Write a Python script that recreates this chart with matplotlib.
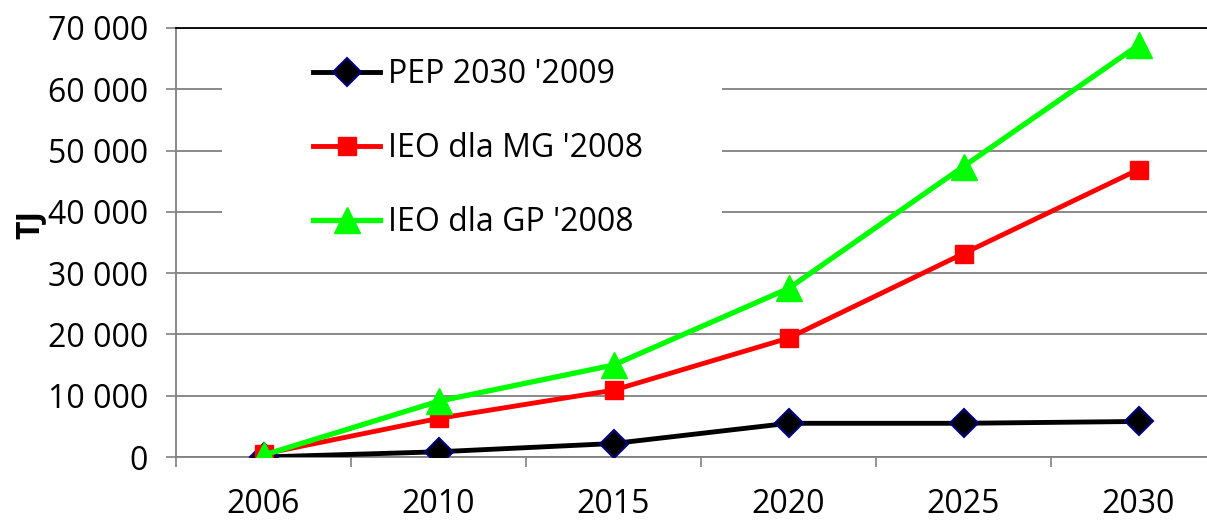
import matplotlib
matplotlib.use("Agg")
import matplotlib.pyplot as plt
from matplotlib.patches import Rectangle
from matplotlib.ticker import FuncFormatter, MultipleLocator

plt.rcParams['font.family'] = ['Open Sans', 'DejaVu Sans']

years = ['2006', '2010', '2015', '2020', '2025', '2030']
pep_2030_2009 = [0, 850, 2200, 5500, 5500, 5800]
ieo_mg_2008 = [500, 6300, 10900, 19400, 33200, 46900]
ieo_gp_2008 = [300, 9100, 15000, 27500, 47400, 67200]
labels = ["PEP 2030 '2009", "IEO dla MG '2008", "IEO dla GP '2008"]

W, H = 1207, 521
fig = plt.figure(figsize=(W / 100, H / 100), dpi=100)
ax = fig.add_axes([176 / W, (H - 457) / H, (1226 - 176) / W, (457 - 28) / H])

x = list(range(len(years)))
ax.plot(x, pep_2030_2009, color='black', lw=3.5, marker='D', ms=14,
        mfc='black', mec='#000080', mew=1.5, label=labels[0], zorder=3)
ax.plot(x, ieo_mg_2008, color='#ff0000', lw=3.5, marker='s', ms=13.5,
        mfc='#ff0000', mec='#ff0000', label=labels[1], zorder=4)
ax.plot(x, ieo_gp_2008, color='#00ff00', lw=3.8, marker='^', ms=19,
        mfc='#00ff00', mec='#00ff00', label=labels[2], zorder=5)

ax.set_xlim(-0.5, len(years) - 0.5)
ax.set_ylim(0, 70000)
ax.yaxis.set_major_locator(MultipleLocator(10000))
ax.yaxis.set_major_formatter(FuncFormatter(lambda v, p: f"{int(v):,}".replace(',', ' ')))
ax.set_xticks(x)
ax.set_xticklabels(years)
ax.set_xticks([i + 0.5 for i in range(-1, len(years))], minor=True)

ax.set_axisbelow(True)
ax.grid(axis='y', color='#808080', lw=1.3)
ax.tick_params(axis='y', which='major', direction='out', length=7.2, width=1.2,
               color='#808080', labelsize=23, pad=13)
ax.tick_params(axis='x', which='major', length=0, labelsize=23, pad=22)
ax.tick_params(axis='x', which='minor', direction='out', length=7.2, width=1.2,
               color='#808080')
ax.yaxis.get_major_ticks()[-1].tick1line.set_color('black')

ax.spines['right'].set_visible(False)
ax.spines['top'].set_color('black')
ax.spines['top'].set_linewidth(1.3)
for s in ['left', 'bottom']:
    ax.spines[s].set_color('#808080')
    ax.spines[s].set_linewidth(1.3)

# white legend area hiding gridlines
bx0, bx1 = 222, 722
by0, by1 = 40, 250
rect = Rectangle(((bx0 - 176) / (1226 - 176), (457 - by1) / (457 - 28)),
                 (bx1 - bx0) / (1226 - 176), (by1 - by0) / (457 - 28),
                 transform=ax.transAxes, facecolor='white', edgecolor='none', zorder=1)
ax.add_patch(rect)

leg = ax.legend(loc='upper left', bbox_to_anchor=(313 / W, 1 - 58 / H),
                bbox_transform=fig.transFigure, frameon=False, fontsize=23,
                handlelength=2.1, handletextpad=0.25, labelspacing=1.28,
                borderpad=0, borderaxespad=0)

fig.text(30 / W, 1 - 224 / H, 'TJ', rotation=90, ha='center', va='center',
         fontsize=23, fontweight='bold')

fig.savefig('out.png', dpi=100)
